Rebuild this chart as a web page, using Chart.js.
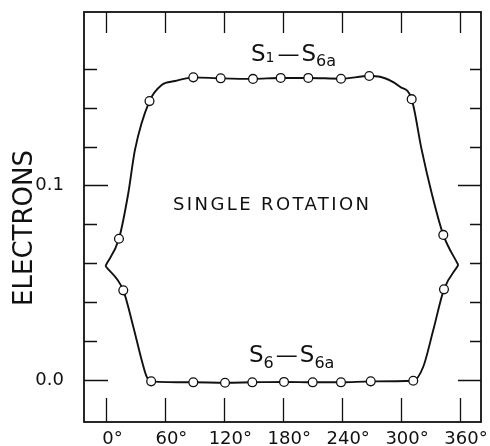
<!DOCTYPE html>
<html>
<head>
<meta charset="utf-8"/>
<script src="https://cdn.jsdelivr.net/npm/chart.js@4.4.1/dist/chart.umd.min.js"></script>
<style>
  body { margin: 0; background: #fff; }
</style>
</head>
<body>
<canvas id="chart" width="490" height="446"></canvas>
<script>
// values: rotation angle (deg) vs electrons
// upper branch S1-S6a, from the left cusp round to the right cusp
const upperDeg  = [-1.0, 12.7, 22.2, 29.0, 43.8, 56.2, 69.8, 88.4, 116.3, 149.2, 177.4, 205.5, 238.8, 267.6, 278.5, 298.9, 310.8, 321.0, 331.2, 343.0, 358.3];
const upperVal  = [0.0586, 0.0726, 0.0960, 0.1183, 0.1434, 0.1517, 0.1537, 0.1556, 0.1551, 0.1548, 0.1553, 0.1553, 0.1549, 0.1563, 0.1559, 0.1508, 0.1444, 0.1183, 0.0960, 0.0746, 0.0591];
const upperMark = [0, 1, 0, 0, 1, 0, 0, 1, 1, 1, 1, 1, 1, 1, 0, 0, 1, 0, 0, 1, 0];
// lower branch S6-S6a
const lowerDeg  = [-1.0, 17.1, 27.3, 35.8, 40.9, 45.5, 88.4, 120.7, 148.5, 180.8, 210.0, 238.8, 269.1, 312.4, 322.6, 332.8, 343.7, 358.3];
const lowerVal  = [0.0586, 0.0461, 0.0274, 0.0103, 0.0017, -0.0007, -0.0012, -0.0014, -0.0012, -0.0010, -0.0012, -0.0012, -0.0007, -0.0004, 0.0068, 0.0257, 0.0466, 0.0591];
const lowerMark = [0, 1, 0, 0, 0, 1, 1, 1, 1, 1, 1, 1, 1, 1, 0, 0, 1, 0];

const xTicks = [0, 60, 120, 180, 240, 300, 360];
const yTicks = [0.0, 0.1];
const yMinor = [0, 0.02, 0.04, 0.06, 0.08, 0.1, 0.12, 0.14, 0.16];

const FONT = "'DejaVu Sans', sans-serif";
const INK = '#111';

function pts(xs, ys) {
  return xs.map((x, i) => ({x: x, y: ys[i]}));
}

function branch(xs, ys, mark) {
  return {
    data: pts(xs, ys),
    showLine: true,
    borderColor: INK,
    borderWidth: 1.9,
    cubicInterpolationMode: 'monotone',
    pointRadius: c => mark[c.dataIndex] ? 4.4 : 0,
    pointBackgroundColor: '#fff',
    pointBorderColor: INK,
    pointBorderWidth: 1.3
  };
}

// box, inward tick marks and the labels written on the plot
const framePlugin = {
  id: 'frame',
  beforeDatasetsDraw(chart) {
    const c = chart.ctx, a = chart.chartArea;
    const sx = chart.scales.x, sy = chart.scales.y;
    c.save();
    c.strokeStyle = INK;
    c.lineWidth = 1.8;
    c.strokeRect(a.left, a.top, a.right - a.left, a.bottom - a.top);
    c.lineWidth = 1.3;
    c.beginPath();
    xTicks.forEach(v => {
      const px = Math.round(sx.getPixelForValue(v)) + 0.5;
      c.moveTo(px, a.bottom); c.lineTo(px, a.bottom - 24);
      c.moveTo(px, a.top); c.lineTo(px, a.top + 21);
    });
    yMinor.forEach(v => {
      const py = Math.round(sy.getPixelForValue(v)) + 0.5;
      const major = yTicks.some(t => Math.abs(t - v) < 1e-9);
      c.moveTo(a.left, py); c.lineTo(a.left + (major ? 24 : 13), py);
      c.moveTo(a.right, py); c.lineTo(a.right - (major ? 23 : 11), py);
    });
    c.stroke();
    c.restore();
  },
  afterDraw(chart) {
    const c = chart.ctx;
    c.save();
    c.fillStyle = INK;

    // y axis title
    c.translate(25, 228);
    c.rotate(-Math.PI / 2);
    c.font = '26px ' + FONT;
    c.textAlign = 'center';
    c.textBaseline = 'middle';
    c.fillText('ELECTRONS', 0, 0);
    c.setTransform(1, 0, 0, 1, 0, 0);

    c.textAlign = 'left';
    c.textBaseline = 'alphabetic';
    c.font = '18px ' + FONT;
    c.letterSpacing = '2.4px';
    c.fillText('SINGLE ROTATION', 173, 210);
    c.letterSpacing = '0px';

    // S with subscripts: [text, size, drop, gap after]
    function rich(parts, x, y) {
      parts.forEach(p => {
        c.font = p[1] + 'px ' + FONT;
        c.fillText(p[0], x, y + p[2]);
        x += c.measureText(p[0]).width + (p[3] || 0);
      });
    }
    rich([['S', 23, 0], ['1', 14, 1, 3], ['\u2014', 22, 0, 2], ['S', 23, 0], ['6a', 16, 5]], 251, 61);
    rich([['S', 23, 0], ['6', 16, 6, 2], ['\u2014', 22, 0, 2], ['S', 23, 0], ['6a', 16, 6]], 249, 362);
    c.restore();
  }
};

new Chart(document.getElementById('chart'), {
  type: 'scatter',
  data: {
    datasets: [
      branch(upperDeg, upperVal, upperMark),
      branch(lowerDeg, lowerVal, lowerMark)
    ]
  },
  options: {
    responsive: false,
    animation: false,
    events: [],
    layout: { padding: { top: 12, right: 9, left: 0, bottom: 0 } },
    plugins: { legend: { display: false }, tooltip: { enabled: false } },
    scales: {
      x: {
        type: 'linear',
        min: -22.9,
        max: 381.4,
        afterBuildTicks: s => { s.ticks = xTicks.map(v => ({value: v})); },
        afterFit: s => { s.height = 24; },
        grid: { display: false },
        border: { display: false },
        ticks: {
          autoSkip: false,
          maxRotation: 0,
          padding: -1,
          labelOffset: 6,
          color: INK,
          font: { family: FONT, size: 18 },
          callback: v => v + '\u00b0'
        }
      },
      y: {
        type: 'linear',
        min: -0.0216,
        max: 0.1892,
        afterBuildTicks: s => { s.ticks = yTicks.map(v => ({value: v})); },
        afterFit: s => { s.width = 84; s.paddingTop = 0; s.paddingBottom = 0; },
        grid: { display: false },
        border: { display: false },
        ticks: {
          padding: 12,
          color: INK,
          font: { family: FONT, size: 18 },
          callback: v => v.toFixed(1)
        }
      }
    }
  },
  plugins: [framePlugin]
});
</script>
</body>
</html>
